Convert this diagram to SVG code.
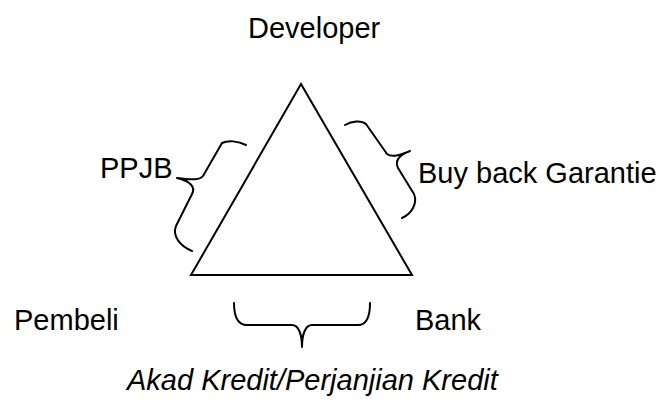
<svg xmlns="http://www.w3.org/2000/svg" width="661" height="403" viewBox="0 0 661 403">
  <style>
    .label { font-family: "Liberation Sans", Arial, sans-serif; font-size: 29px; fill: #000; }
    .it { font-style: italic; }
    .shape { fill: none; stroke: #000; stroke-width: 2; stroke-linejoin: miter; }
    .brace { fill: none; stroke: #000; stroke-width: 2; stroke-linecap: round; stroke-linejoin: round; }
  </style>
  <rect width="661" height="403" fill="#fff"/>

  <!-- the three parties and their agreements -->
  <g id="triangle">
    <polygon class="shape" points="301,84 191,275 412,275"/>
  </g>

  <g id="developer">
    <text class="label" x="248" y="38">Developer</text>
  </g>
  <g id="pembeli">
    <text class="label" x="14" y="330">Pembeli</text>
  </g>
  <g id="bank">
    <text class="label" x="415" y="330">Bank</text>
  </g>

  <g id="connectors">
    <!-- PPJB brace along the left edge -->
    <path id="brace-ppjb" class="brace" d="M246,145 C238,141 228,140 222,143 L203,176 C200,180 193,180 177,178 C190,181 196,187 192,194 L176,226 C172,236 180,246 192,251"/>
    <!-- Buy back brace along the right edge -->
    <path id="brace-buyback" class="brace" d="M345,125 C352,121 361,120 366,124 L387,154 C392,158 400,155 410,151 C401,154 394,160 398,168 L414,194 C418,204 411,214 402,218"/>
    <!-- Akad Kredit brace under the base -->
    <path id="brace-akad" class="brace" d="M234,303 C234,316 237,325 247,325 L292,325 C298,325 302,333 302,347 C302,333 306,325 312,325 L358,325 C367,325 370,316 370,303"/>
  </g>

  <g id="ppjb">
    <text class="label" x="100" y="178">PPJB</text>
  </g>
  <g id="buyback">
    <text class="label" x="418" y="183">Buy back Garantie</text>
  </g>
  <g id="akad">
    <text class="label it" x="127" y="390">Akad Kredit/Perjanjian Kredit</text>
  </g>
</svg>
